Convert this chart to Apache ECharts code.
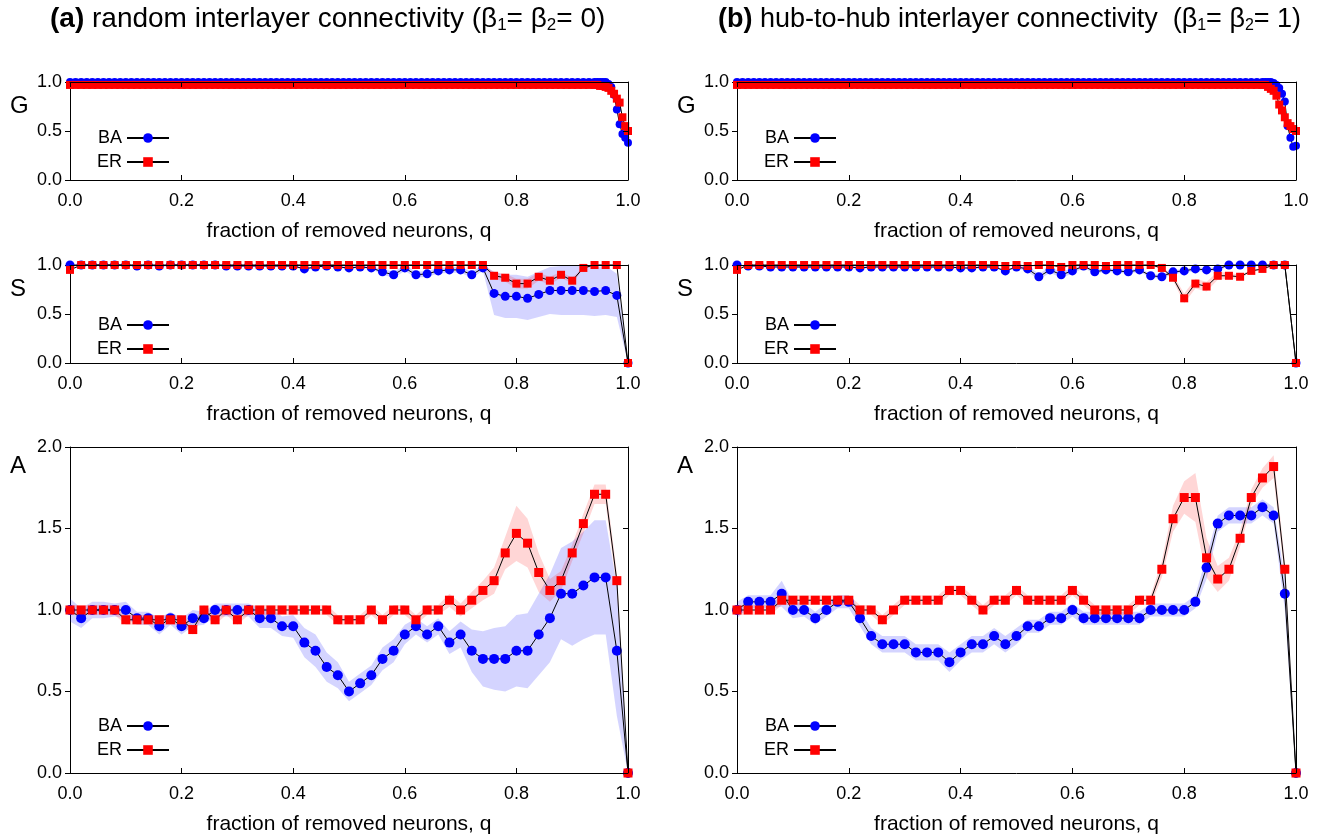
<!DOCTYPE html>
<html><head><meta charset="utf-8">
<script src="https://cdn.jsdelivr.net/npm/echarts@6/dist/echarts.min.js"></script>
<style>html,body{margin:0;padding:0;background:#fff}#c{width:1321px;height:837px}</style>
</head><body><div id="c"></div>
<script>
// ---------- DATA ----------
const Q = [0,0.02,0.04,0.06,0.08,0.1,0.12,0.14,0.16,0.18,0.2,0.22,0.24,0.26,0.28,0.3,0.32,0.34,0.36,0.38,0.4,0.42,0.44,0.46,0.48,0.5,0.52,0.54,0.56,0.58,0.6,0.62,0.64,0.66,0.68,0.7,0.72,0.74,0.76,0.78,0.8,0.82,0.84,0.86,0.88,0.9,0.92,0.94,0.96,0.98,1];

const G_X = [0,0.01,0.02,0.03,0.04,0.05,0.06,0.07,0.08,0.09,
0.1,0.11,0.12,0.13,0.14,0.15,0.16,0.17,0.18,0.19,
0.2,0.21,0.22,0.23,0.24,0.25,0.26,0.27,0.28,0.29,
0.3,0.31,0.32,0.33,0.34,0.35,0.36,0.37,0.38,0.39,
0.4,0.41,0.42,0.43,0.44,0.45,0.46,0.47,0.48,0.49,
0.5,0.51,0.52,0.53,0.54,0.55,0.56,0.57,0.58,0.59,
0.6,0.61,0.62,0.63,0.64,0.65,0.66,0.67,0.68,0.69,
0.7,0.71,0.72,0.73,0.74,0.75,0.76,0.77,0.78,0.79,
0.8,0.81,0.82,0.83,0.84,0.85,0.86,0.87,0.88,0.89,
0.9,0.91,0.92,0.93,0.94,
0.945,0.95,0.955,0.96,0.965,0.97,0.975,0.98,0.985,0.99,0.995,1];

const G_LEFT_BA = [1,1,1,1,1,1,1,1,1,1, 1,1,1,1,1,1,1,1,1,1, 1,1,1,1,1,1,1,1,1,1,
1,1,1,1,1,1,1,1,1,1, 1,1,1,1,1,1,1,1,1,1, 1,1,1,1,1,1,1,1,1,1,
1,1,1,1,1,1,1,1,1,1, 1,1,1,1,1,1,1,1,1,1, 1,1,1,1,1,1,1,1,1,1, 1,1,1,1,1,
1,1,1,1,0.98,0.95,0.87,0.72,0.57,0.47,0.43,0.38];
const G_LEFT_ER = [0.97,0.97,0.97,0.97,0.97,0.97,0.97,0.97,0.97,0.97, 0.97,0.97,0.97,0.97,0.97,0.97,0.97,0.97,0.97,0.97,
0.97,0.97,0.97,0.97,0.97,0.97,0.97,0.97,0.97,0.97, 0.97,0.97,0.97,0.97,0.97,0.97,0.97,0.97,0.97,0.97,
0.97,0.97,0.97,0.97,0.97,0.97,0.97,0.97,0.97,0.97, 0.97,0.97,0.97,0.97,0.97,0.97,0.97,0.97,0.97,0.97,
0.97,0.97,0.97,0.97,0.97,0.97,0.97,0.97,0.97,0.97, 0.97,0.97,0.97,0.97,0.97,0.97,0.97,0.97,0.97,0.97,
0.97,0.97,0.97,0.97,0.97,0.97,0.97,0.97,0.97,0.97, 0.97,0.97,0.97,0.97,0.97,
0.97,0.96,0.96,0.95,0.94,0.91,0.88,0.83,0.79,0.64,0.55,0.5];
const G_RIGHT_BA = [1,1,1,1,1,1,1,1,1,1, 1,1,1,1,1,1,1,1,1,1, 1,1,1,1,1,1,1,1,1,1,
1,1,1,1,1,1,1,1,1,1, 1,1,1,1,1,1,1,1,1,1, 1,1,1,1,1,1,1,1,1,1,
1,1,1,1,1,1,1,1,1,1, 1,1,1,1,1,1,1,1,1,1, 1,1,1,1,1,1,1,1,1,1, 1,1,1,1,1,
1,1,1,0.99,0.97,0.94,0.88,0.8,0.55,0.43,0.34,0.35];
const G_RIGHT_ER = [0.97,0.97,0.97,0.97,0.97,0.97,0.97,0.97,0.97,0.97, 0.97,0.97,0.97,0.97,0.97,0.97,0.97,0.97,0.97,0.97,
0.97,0.97,0.97,0.97,0.97,0.97,0.97,0.97,0.97,0.97, 0.97,0.97,0.97,0.97,0.97,0.97,0.97,0.97,0.97,0.97,
0.97,0.97,0.97,0.97,0.97,0.97,0.97,0.97,0.97,0.97, 0.97,0.97,0.97,0.97,0.97,0.97,0.97,0.97,0.97,0.97,
0.97,0.97,0.97,0.97,0.97,0.97,0.97,0.97,0.97,0.97, 0.97,0.97,0.97,0.97,0.97,0.97,0.97,0.97,0.97,0.97,
0.97,0.97,0.97,0.97,0.97,0.97,0.97,0.97,0.97,0.97, 0.97,0.97,0.97,0.97,0.97,
0.97,0.95,0.93,0.91,0.86,0.77,0.71,0.64,0.58,0.55,0.52,0.5];

const S_LEFT_BA = [1,1,1,1,1,1,0.99,1,0.99,1, 1,1,1,1,0.99,0.99,0.99,0.99,0.99,0.99,
0.99,0.96,0.98,0.99,0.98,0.97,0.98,0.97,0.93,0.9, 0.97,0.9,0.91,0.94,0.95,0.95,0.9,0.97,0.71,0.68,
0.68,0.66,0.7,0.74,0.74,0.74,0.74,0.73,0.74,0.69, 0];
const S_LEFT_BA_ERR = [0.01,0.01,0.01,0.01,0.01,0.01,0.01,0.01,0.01,0.01, 0.01,0.01,0.01,0.01,0.01,0.01,0.01,0.01,0.01,0.01,
0.01,0.01,0.01,0.01,0.01,0.01,0.01,0.01,0.03,0.03, 0.03,0.03,0.03,0.03,0.03,0.03,0.03,0.03,0.22,0.22,
0.22,0.22,0.23,0.24,0.25,0.25,0.25,0.25,0.25,0.22, 0];
const S_LEFT_ER = [0.95,1,1,1,1,1,1,1,1,1, 1,1,1,1,1,1,1,1,1,1,
1,1,1,1,1,1,1,1,1,1, 1,1,1,1,1,1,1,1,0.89,0.87,
0.81,0.81,0.88,0.84,0.9,0.84,0.97,1,1,1, 0];
const S_LEFT_ER_ERR = [0.01,0.01,0.01,0.01,0.01,0.01,0.01,0.01,0.01,0.01, 0.01,0.01,0.01,0.01,0.01,0.01,0.01,0.01,0.01,0.01,
0.01,0.01,0.01,0.01,0.01,0.01,0.01,0.01,0.01,0.01, 0.01,0.01,0.01,0.01,0.01,0.01,0.01,0.01,0.03,0.04,
0.05,0.05,0.04,0.04,0.03,0.03,0.01,0.01,0.01,0.01, 0];

const S_RIGHT_BA = [1,0.99,0.99,0.98,0.98,0.98,0.98,0.98,0.98,0.98, 0.98,0.97,0.98,0.98,0.98,0.98,0.98,0.98,0.98,0.98,
0.97,0.97,0.98,0.98,0.94,0.98,0.96,0.88,0.95,0.9, 0.94,0.99,0.93,0.95,0.94,0.93,0.95,0.89,0.88,0.93,
0.94,0.96,0.95,0.96,1,1,1,1,1,1, 0];
const S_RIGHT_BA_ERR = [0.01,0.01,0.01,0.01,0.01,0.01,0.01,0.01,0.01,0.01, 0.01,0.01,0.01,0.01,0.01,0.01,0.01,0.01,0.01,0.01,
0.01,0.01,0.01,0.01,0.01,0.01,0.03,0.03,0.03,0.03, 0.03,0.02,0.02,0.02,0.02,0.02,0.02,0.02,0.02,0.02,
0.02,0.02,0.02,0.02,0.01,0.01,0.01,0.01,0.01,0.01, 0];
const S_RIGHT_ER = [0.95,1,1,1,1,1,1,1,1,1, 1,1,1,1,1,1,1,1,1,1,
1,1,1,1,0.99,1,0.99,1,1,0.98, 1,1,1,0.99,1,1,1,1,0.97,0.87,
0.66,0.81,0.78,0.89,0.89,0.88,0.94,0.96,1,1, 0];
const S_RIGHT_ER_ERR = [0.01,0.01,0.01,0.01,0.01,0.01,0.01,0.01,0.01,0.01, 0.01,0.01,0.01,0.01,0.01,0.01,0.01,0.01,0.01,0.01,
0.01,0.01,0.01,0.01,0.01,0.01,0.01,0.01,0.01,0.01, 0.01,0.01,0.01,0.01,0.01,0.01,0.01,0.01,0.01,0.03,
0.05,0.05,0.05,0.04,0.03,0.02,0.01,0.01,0.01,0.01, 0];

const A_LEFT_BA = [1,0.95,1,1,1,1,0.95,0.95,0.9,0.95, 0.9,0.95,0.95,1,1,1,1,0.95,0.95,0.9,
0.9,0.8,0.75,0.65,0.6,0.5,0.55,0.6,0.7,0.75, 0.85,0.9,0.85,0.9,0.8,0.85,0.75,0.7,0.7,0.7,
0.75,0.75,0.85,0.95,1.1,1.1,1.15,1.2,1.2,0.75, 0];
const A_LEFT_BA_ERR = [0.07,0.06,0.05,0.05,0.04,0.05,0.04,0.04,0.05,0.04, 0.05,0.05,0.04,0.04,0.04,0.04,0.04,0.06,0.06,0.06,
0.07,0.09,0.1,0.09,0.08,0.06,0.06,0.06,0.07,0.07, 0.06,0.05,0.05,0.05,0.07,0.08,0.13,0.17,0.19,0.2,
0.22,0.23,0.25,0.27,0.28,0.32,0.33,0.35,0.35,0.4, 0];
const A_LEFT_ER = [1,1,1,1,1,0.94,0.94,0.94,0.94,0.94, 0.94,0.88,1,0.94,1,0.94,1,1,1,1,
1,1,1,1,0.94,0.94,0.94,1,0.94,1, 1,0.94,1,1,1.06,1,1.06,1.12,1.18,1.35,
1.47,1.41,1.23,1.12,1.18,1.35,1.53,1.71,1.71,1.18, 0];
const A_LEFT_ER_ERR = [0.03,0.03,0.03,0.03,0.03,0.03,0.03,0.03,0.03,0.03, 0.03,0.03,0.03,0.03,0.03,0.03,0.03,0.03,0.03,0.03,
0.03,0.03,0.03,0.03,0.03,0.03,0.03,0.03,0.03,0.03, 0.03,0.03,0.03,0.03,0.04,0.04,0.05,0.06,0.08,0.1,
0.17,0.15,0.12,0.07,0.06,0.05,0.06,0.06,0.06,0.05, 0];

const A_RIGHT_BA = [1,1.05,1.05,1.05,1.1,1,1,0.95,1,1.05, 1.05,0.95,0.84,0.79,0.79,0.79,0.74,0.74,0.74,0.68,
0.74,0.79,0.79,0.84,0.79,0.84,0.9,0.9,0.95,0.95, 1,0.95,0.95,0.95,0.95,0.95,0.95,1,1,1,
1,1.05,1.26,1.53,1.58,1.58,1.58,1.63,1.58,1.1, 0];
const A_RIGHT_BA_ERR = [0.05,0.04,0.04,0.04,0.08,0.05,0.04,0.04,0.04,0.04, 0.04,0.05,0.05,0.05,0.05,0.05,0.05,0.05,0.05,0.06,
0.05,0.05,0.05,0.05,0.05,0.05,0.04,0.04,0.04,0.04, 0.04,0.04,0.04,0.04,0.04,0.04,0.04,0.04,0.04,0.04,
0.04,0.04,0.07,0.05,0.05,0.05,0.05,0.05,0.05,0.1, 0];
const A_RIGHT_ER = [1,1,1,1,1.06,1.06,1.06,1.06,1.06,1.06, 1.06,1,1,0.94,1,1.06,1.06,1.06,1.06,1.12,
1.12,1.06,1,1.06,1.06,1.12,1.06,1.06,1.06,1.06, 1.12,1.06,1,1,1,1,1.06,1.06,1.25,1.56,
1.69,1.69,1.32,1.19,1.25,1.44,1.69,1.81,1.88,1.25, 0];
const A_RIGHT_ER_ERR = [0.03,0.03,0.03,0.03,0.03,0.03,0.03,0.03,0.03,0.03, 0.03,0.03,0.03,0.03,0.03,0.03,0.03,0.03,0.03,0.03,
0.03,0.03,0.03,0.03,0.03,0.03,0.03,0.03,0.03,0.03, 0.03,0.03,0.03,0.03,0.03,0.03,0.03,0.03,0.05,0.08,
0.1,0.15,0.12,0.08,0.07,0.05,0.05,0.06,0.07,0.05, 0];

const X_NAME = 'fraction of removed neurons, q';
const ROW_NAMES = ['G','S','A'];

// ---------- LAYOUT ----------
const FONT = "'Liberation Sans', Arial, sans-serif";
const cols = [{left:70,width:558},{left:737,width:559}];
const rows = [
  {top:82,height:98,max:1,legendTop:129,nameTop:89},
  {top:265,height:98,max:1,legendTop:316,nameTop:272},
  {top:447,height:326,max:2,legendTop:717,nameTop:449}
];
const panels = [
  {r:0,c:0,xs:G_X,ba:G_LEFT_BA,er:G_LEFT_ER},
  {r:0,c:1,xs:G_X,ba:G_RIGHT_BA,er:G_RIGHT_ER},
  {r:1,c:0,xs:Q,ba:S_LEFT_BA,er:S_LEFT_ER,baErr:S_LEFT_BA_ERR,erErr:S_LEFT_ER_ERR},
  {r:1,c:1,xs:Q,ba:S_RIGHT_BA,er:S_RIGHT_ER,baErr:S_RIGHT_BA_ERR,erErr:S_RIGHT_ER_ERR},
  {r:2,c:0,xs:Q,ba:A_LEFT_BA,er:A_LEFT_ER,baErr:A_LEFT_BA_ERR,erErr:A_LEFT_ER_ERR},
  {r:2,c:1,xs:Q,ba:A_RIGHT_BA,er:A_RIGHT_ER,baErr:A_RIGHT_BA_ERR,erErr:A_RIGHT_ER_ERR}
];

const grid=[],xAxis=[],yAxis=[],series=[],legend=[],title=[];
const BLACK='#000';
panels.forEach((p,k)=>{
  const R=rows[p.r], C=cols[p.c];
  grid.push({left:C.left,width:C.width,top:R.top,height:R.height});
  const ax={type:'value',gridIndex:k,min:0,max:1,interval:0.2,splitLine:{show:false},
    axisLine:{onZero:false,lineStyle:{color:BLACK,width:1}},
    axisTick:{inside:true,length:5,lineStyle:{color:BLACK}}};
  xAxis.push(Object.assign({},ax,{position:'bottom',
    axisLabel:{fontSize:18,color:BLACK,margin:12,fontFamily:FONT,formatter:v=>v.toFixed(1)},
    name:X_NAME,nameLocation:'middle',nameGap:41,
    nameTextStyle:{fontSize:21,color:BLACK,fontFamily:FONT}}));
  xAxis.push(Object.assign({},ax,{position:'top',axisLabel:{show:false},z:10}));
  const ay={type:'value',gridIndex:k,min:0,max:R.max,interval:0.5,splitLine:{show:false},
    axisLine:{show:true,onZero:false,lineStyle:{color:BLACK,width:1}}};
  yAxis.push(Object.assign({},ay,{position:'left',
    axisTick:{inside:false,length:5,lineStyle:{color:BLACK}},
    axisLabel:{fontSize:18,color:BLACK,margin:8,fontFamily:FONT,formatter:v=>v.toFixed(1)}}));
  yAxis.push(Object.assign({},ay,{position:'right',z:10,
    axisTick:{inside:true,length:5,lineStyle:{color:BLACK}},axisLabel:{show:false}}));
  const xi=2*k, yi=2*k;
  const addBand=(vals,err,color)=>{
    const rowsData=p.xs.map((x,i)=>[x,vals[i]-err[i],vals[i]+err[i]]);
    series.push({type:'custom',xAxisIndex:xi,yAxisIndex:yi,silent:true,z:1,animation:false,
      data:rowsData,
      renderItem:(params,api)=>{
        if(params.dataIndex!==0) return null;
        const up=rowsData.map(d=>api.coord([d[0],d[2]]));
        const dn=rowsData.map(d=>api.coord([d[0],d[1]])).reverse();
        const cs=params.coordSys;
        return {type:'polygon',shape:{points:up.concat(dn)},style:{fill:color},
          clipPath:{type:'rect',shape:{x:cs.x,y:cs.y,width:cs.width,height:cs.height}}};
      }});
  };
  if(p.baErr){
    addBand(p.ba,p.baErr,'rgba(0,0,255,0.17)');
    addBand(p.er,p.erErr,'rgba(255,0,0,0.16)');
  }
  const big = p.r===2;
  series.push({type:'line',name:'BA',xAxisIndex:xi,yAxisIndex:yi,
    data:p.xs.map((x,i)=>[x,p.ba[i]]),symbol:'circle',symbolSize:big?10:(p.r===0?8:9),
    itemStyle:{color:'#0000ff'},lineStyle:{color:BLACK,width:1},clip:false,z:3,animation:false});
  series.push({type:'line',name:'ER',xAxisIndex:xi,yAxisIndex:yi,
    data:p.xs.map((x,i)=>[x,p.er[i]]),symbol:'rect',symbolSize:big?9:8,
    itemStyle:{color:'#ff0000'},lineStyle:{color:BLACK,width:1},clip:false,z:4,animation:false});
  legend.push({data:['BA','ER'],left:C.left+27,top:R.legendTop,orient:'vertical',align:'right',
    padding:0,itemWidth:42,itemHeight:12,itemGap:6,selectedMode:false,
    textStyle:{fontSize:18,color:BLACK,fontFamily:FONT}});
  title.push({text:ROW_NAMES[p.r],left:C.left-65,top:R.nameTop,
    textStyle:{fontSize:24,fontWeight:'normal',color:BLACK,fontFamily:FONT}});
});

const subStyle={fontSize:17,padding:[13,0,0,0],fontFamily:FONT,color:BLACK};
title.push({text:'{b|(a)} random interlayer connectivity (β{s|1}= β{s|2}= 0)',left:50,top:4,padding:0,
  textStyle:{fontSize:28,fontWeight:'normal',color:BLACK,fontFamily:FONT,
    rich:{b:{fontSize:28,fontWeight:'bold',fontFamily:FONT,color:BLACK},s:subStyle}}});
const subStyleB={fontSize:16,padding:[13,0,0,0],fontFamily:FONT,color:BLACK};
title.push({text:'{b|(b)} hub-to-hub interlayer connectivity  (β{s|1}= β{s|2}= 1)',left:718,top:5,padding:0,
  textStyle:{fontSize:27,fontWeight:'normal',color:BLACK,fontFamily:FONT,
    rich:{b:{fontSize:27,fontWeight:'bold',fontFamily:FONT,color:BLACK},s:subStyleB}}});

const chart = echarts.init(document.getElementById('c'),null,{renderer:'canvas'});
chart.setOption({animation:false,backgroundColor:'#fff',title,grid,xAxis,yAxis,series,legend});
</script></body></html>
